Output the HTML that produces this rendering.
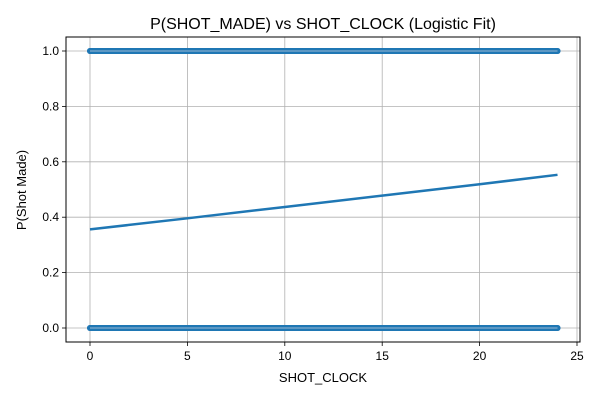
<!DOCTYPE html>
<html><head><meta charset="utf-8"><style>
body{margin:0;background:#fff;}
svg text{font-family:"Liberation Sans","DejaVu Sans",sans-serif;fill:#000;}
</style></head><body>
<svg id="chart" width="600" height="400" xmlns="http://www.w3.org/2000/svg"></svg>
<script>
const xTicks=[0,5,10,15,20,25];
const yTicks=[0.0,0.2,0.4,0.6,0.8,1.0];
const yTickLabels=["0.0","0.2","0.4","0.6","0.8","1.0"];
const shotClock=[0,1,2,3,4,5,6,7,8,9,10,11,12,13,14,15,16,17,18,19,20,21,22,23,24];
const madeValues=[1,0];
const fitX=[0,5,10,15,20,24];
const fitP=[0.356,0.396,0.437,0.478,0.519,0.553];

const L=66,R=580,T=37,B=342;
const sx=v=>90+(v-0)*(577-90)/25;
const sy=v=>328-v*(328-51);
const svg=document.getElementById('chart');
const NS='http://www.w3.org/2000/svg';
function mk(tag,attrs,txt){const e=document.createElementNS(NS,tag);for(const k in attrs)e.setAttribute(k,attrs[k]);if(txt!==undefined)e.textContent=txt;svg.appendChild(e);return e;}

let t=mk('text',{x:323,y:29,'text-anchor':'middle','font-size':16},'P(SHOT_MADE) vs SHOT_CLOCK (Logistic Fit)');



xTicks.forEach(v=>{
  let g=mk('line',{x1:sx(v),x2:sx(v),y1:T,y2:B,stroke:'#b0b0b0','stroke-width':0.8});
  
  
  mk('line',{x1:sx(v),x2:sx(v),y1:B,y2:B+4,stroke:'#000','stroke-width':0.8});
  let l=mk('text',{x:sx(v),y:B+18,'text-anchor':'middle','font-size':12},String(v));
  
  
});
yTicks.forEach((v,i)=>{
  let g=mk('line',{x1:L,x2:R,y1:sy(v),y2:sy(v),stroke:'#b0b0b0','stroke-width':0.8});
  
  
  mk('line',{x1:L-4,x2:L,y1:sy(v),y2:sy(v),stroke:'#000','stroke-width':0.8});
  let l=mk('text',{x:L-7,y:sy(v)+4,'text-anchor':'end','font-size':12},yTickLabels[i]);
  
  
});

madeValues.forEach(m=>{
  const xs=shotClock.map(sx);
  let band=mk('line',{x1:Math.min(...xs),x2:Math.max(...xs),y1:sy(m),y2:sy(m),stroke:'#1f77b4','stroke-width':6,'stroke-linecap':'round'});
  
  
  shotClock.forEach(v=>{
    let c=mk('circle',{cx:sx(v),cy:sy(m),r:3,fill:'#1f77b4'});
    
    
  });
  mk('line',{x1:Math.min(...xs),x2:Math.max(...xs),y1:sy(m),y2:sy(m),stroke:'#9bbad3','stroke-width':1});
});

let p=mk('polyline',{points:fitX.map((v,i)=>sx(v)+','+sy(fitP[i])).join(' '),fill:'none',stroke:'#1f77b4','stroke-width':2.5});



let ax=mk('rect',{x:L,y:T,width:R-L,height:B-T,fill:'none',stroke:'#000','stroke-width':1});



let xl=mk('text',{x:323,y:382,'text-anchor':'middle','font-size':13},'SHOT_CLOCK');


let yl=mk('text',{x:26,y:190,'text-anchor':'middle','font-size':13,transform:'rotate(-90 26 190)'},'P(Shot Made)');


</script>
</body></html>
